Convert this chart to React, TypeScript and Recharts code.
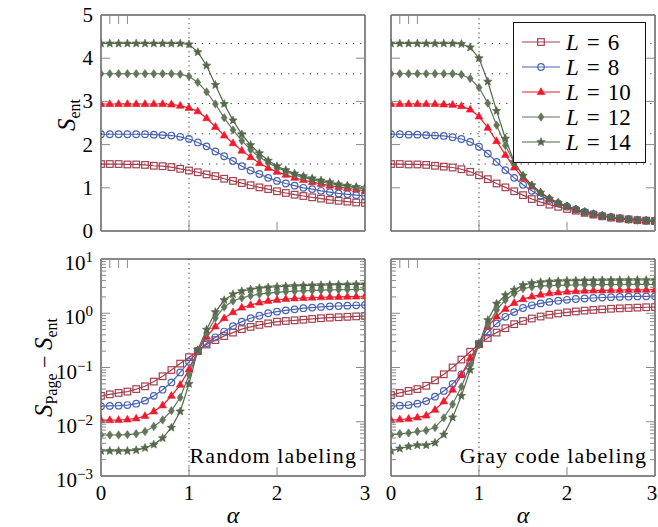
import React from 'react';
import { LineChart, Line, XAxis, YAxis, ReferenceLine, Legend, Label } from 'recharts';

// ---------- data ----------
const alpha = [0, 0.1, 0.2, 0.3, 0.4, 0.5, 0.6, 0.7, 0.8, 0.9, 1.0, 1.1, 1.2, 1.3, 1.4, 1.5, 1.6, 1.7, 1.8, 1.9, 2.0, 2.1, 2.2, 2.3, 2.4, 2.5, 2.6, 2.7, 2.8, 2.9, 3.0];

const randEnt6 = [1.55, 1.55, 1.55, 1.54, 1.54, 1.53, 1.51, 1.50, 1.48, 1.44, 1.40, 1.36, 1.31, 1.27, 1.21, 1.16, 1.11, 1.06, 1.01, 0.97, 0.92, 0.88, 0.84, 0.81, 0.78, 0.75, 0.72, 0.70, 0.68, 0.66, 0.65];
const randEnt8 = [2.24, 2.24, 2.24, 2.24, 2.24, 2.24, 2.23, 2.22, 2.21, 2.18, 2.13, 2.05, 1.96, 1.84, 1.73, 1.62, 1.50, 1.40, 1.32, 1.23, 1.16, 1.10, 1.05, 1.00, 0.97, 0.93, 0.90, 0.87, 0.85, 0.83, 0.81];
const randEnt10 = [2.94, 2.94, 2.94, 2.94, 2.94, 2.94, 2.94, 2.94, 2.93, 2.90, 2.85, 2.77, 2.61, 2.41, 2.21, 2.03, 1.86, 1.71, 1.57, 1.46, 1.37, 1.30, 1.23, 1.18, 1.13, 1.09, 1.05, 1.02, 0.99, 0.96, 0.93];
const randEnt12 = [3.64, 3.64, 3.64, 3.64, 3.64, 3.64, 3.64, 3.64, 3.64, 3.63, 3.58, 3.44, 3.22, 2.94, 2.62, 2.34, 2.09, 1.88, 1.71, 1.58, 1.47, 1.38, 1.30, 1.24, 1.19, 1.14, 1.10, 1.06, 1.03, 1.00, 0.97];
const randEnt14 = [4.34, 4.34, 4.34, 4.34, 4.34, 4.34, 4.34, 4.34, 4.34, 4.34, 4.32, 4.14, 3.83, 3.38, 2.94, 2.56, 2.24, 1.99, 1.80, 1.63, 1.50, 1.41, 1.33, 1.27, 1.22, 1.17, 1.13, 1.08, 1.05, 1.02, 1.00];

const grayEnt6 = [1.55, 1.55, 1.54, 1.54, 1.53, 1.51, 1.49, 1.47, 1.43, 1.37, 1.29, 1.20, 1.10, 1.01, 0.92, 0.83, 0.74, 0.67, 0.61, 0.56, 0.51, 0.47, 0.42, 0.38, 0.34, 0.31, 0.29, 0.27, 0.25, 0.24, 0.23];
const grayEnt8 = [2.24, 2.24, 2.23, 2.23, 2.22, 2.21, 2.20, 2.17, 2.13, 2.06, 1.95, 1.79, 1.60, 1.41, 1.23, 1.07, 0.93, 0.81, 0.72, 0.64, 0.57, 0.50, 0.44, 0.39, 0.35, 0.32, 0.29, 0.27, 0.25, 0.24, 0.23];
const grayEnt10 = [2.94, 2.94, 2.94, 2.94, 2.94, 2.94, 2.93, 2.92, 2.89, 2.81, 2.65, 2.39, 2.08, 1.76, 1.47, 1.22, 1.03, 0.88, 0.75, 0.65, 0.57, 0.50, 0.44, 0.39, 0.35, 0.32, 0.29, 0.27, 0.25, 0.24, 0.23];
const grayEnt12 = [3.64, 3.64, 3.64, 3.64, 3.64, 3.64, 3.64, 3.64, 3.62, 3.53, 3.32, 2.96, 2.45, 1.98, 1.58, 1.28, 1.06, 0.89, 0.75, 0.65, 0.57, 0.50, 0.44, 0.39, 0.35, 0.32, 0.29, 0.27, 0.25, 0.24, 0.23];
const grayEnt14 = [4.34, 4.34, 4.34, 4.34, 4.34, 4.34, 4.34, 4.34, 4.33, 4.25, 4.00, 3.46, 2.78, 2.14, 1.60, 1.28, 1.06, 0.89, 0.75, 0.65, 0.57, 0.50, 0.44, 0.39, 0.35, 0.32, 0.29, 0.27, 0.25, 0.24, 0.23];

const randDiff6 = [0.030, 0.032, 0.034, 0.036, 0.040, 0.045, 0.055, 0.069, 0.090, 0.118, 0.155, 0.20, 0.265, 0.32, 0.38, 0.44, 0.51, 0.56, 0.61, 0.65, 0.70, 0.72, 0.74, 0.76, 0.785, 0.81, 0.83, 0.845, 0.86, 0.875, 0.89];
const randDiff8 = [0.0194, 0.0196, 0.0198, 0.0203, 0.0215, 0.0245, 0.030, 0.039, 0.053, 0.081, 0.127, 0.20, 0.28, 0.36, 0.46, 0.58, 0.70, 0.81, 0.90, 1.0, 1.07, 1.13, 1.18, 1.24, 1.27, 1.31, 1.34, 1.36, 1.38, 1.40, 1.42];
const randDiff10 = [0.0107, 0.0107, 0.0108, 0.0110, 0.0115, 0.0128, 0.0155, 0.020, 0.030, 0.048, 0.092, 0.20, 0.37, 0.57, 0.81, 1.04, 1.27, 1.42, 1.57, 1.69, 1.76, 1.83, 1.88, 1.91, 1.94, 1.97, 1.99, 2.0, 2.02, 2.03, 2.05];
const randDiff12 = [0.0057, 0.0057, 0.0057, 0.0058, 0.0060, 0.0066, 0.0082, 0.0108, 0.016, 0.028, 0.073, 0.20, 0.42, 0.82, 1.3, 1.68, 1.92, 2.1, 2.25, 2.35, 2.43, 2.5, 2.55, 2.59, 2.63, 2.66, 2.69, 2.71, 2.73, 2.75, 2.77];
const randDiff14 = [0.0029, 0.0029, 0.0029, 0.0029, 0.0030, 0.0033, 0.0038, 0.0050, 0.0078, 0.0155, 0.05, 0.21, 0.5, 1.05, 1.75, 2.24, 2.55, 2.75, 2.9, 3.0, 3.08, 3.14, 3.19, 3.23, 3.27, 3.3, 3.33, 3.36, 3.38, 3.40, 3.42];

const grayDiff6 = [0.031, 0.034, 0.037, 0.040, 0.046, 0.058, 0.075, 0.10, 0.14, 0.195, 0.27, 0.35, 0.44, 0.53, 0.63, 0.72, 0.80, 0.87, 0.94, 0.99, 1.04, 1.08, 1.12, 1.15, 1.18, 1.21, 1.23, 1.25, 1.27, 1.29, 1.30];
const grayDiff8 = [0.0196, 0.0198, 0.0203, 0.0215, 0.024, 0.029, 0.037, 0.05, 0.075, 0.125, 0.27, 0.44, 0.65, 0.86, 1.05, 1.25, 1.4, 1.52, 1.62, 1.7, 1.77, 1.83, 1.87, 1.91, 1.95, 1.98, 2.0, 2.02, 2.04, 2.05, 2.06];
const grayDiff10 = [0.0107, 0.011, 0.0113, 0.012, 0.013, 0.0166, 0.0236, 0.039, 0.073, 0.15, 0.27, 0.57, 0.87, 1.2, 1.55, 1.82, 2.03, 2.2, 2.33, 2.42, 2.5, 2.55, 2.59, 2.62, 2.64, 2.66, 2.68, 2.69, 2.70, 2.71, 2.72];
const grayDiff12 = [0.0057, 0.006, 0.0062, 0.0066, 0.0069, 0.0078, 0.0118, 0.021, 0.044, 0.11, 0.27, 0.6, 1.15, 1.75, 2.3, 2.85, 3.05, 3.15, 3.22, 3.27, 3.3, 3.32, 3.34, 3.36, 3.37, 3.38, 3.39, 3.40, 3.41, 3.42, 3.42];
const grayDiff14 = [0.0029, 0.0032, 0.0035, 0.0037, 0.0037, 0.0041, 0.0058, 0.012, 0.03, 0.09, 0.27, 0.75, 1.5, 2.15, 2.7, 3.3, 3.6, 3.75, 3.85, 3.92, 3.97, 4.0, 4.03, 4.05, 4.06, 4.07, 4.08, 4.09, 4.1, 4.1, 4.1];

const pageValues = [1.55, 2.25, 2.95, 3.64, 4.34];
const xTicks = [0, 1, 2, 3];
const yTicksLin = [0, 1, 2, 3, 4, 5];
const yTicksLog = [0.001, 0.01, 0.1, 1, 10];
const yMinorLog = [0.002, 0.003, 0.004, 0.005, 0.006, 0.007, 0.008, 0.009,
  0.02, 0.03, 0.04, 0.05, 0.06, 0.07, 0.08, 0.09,
  0.2, 0.3, 0.4, 0.5, 0.6, 0.7, 0.8, 0.9,
  2, 3, 4, 5, 6, 7, 8, 9];
const yTicksLogAll = [...yTicksLog, ...yMinorLog];
const sizes = ['6', '8', '10', '12', '14'];

const buildRows = (s6: number[], s8: number[], s10: number[], s12: number[], s14: number[]) =>
  alpha.map((a, i) => ({ a, L6: s6[i], L8: s8[i], L10: s10[i], L12: s12[i], L14: s14[i] }));

const randEntRows = buildRows(randEnt6, randEnt8, randEnt10, randEnt12, randEnt14);
const grayEntRows = buildRows(grayEnt6, grayEnt8, grayEnt10, grayEnt12, grayEnt14);
const randDiffRows = buildRows(randDiff6, randDiff8, randDiff10, randDiff12, randDiff14);
const grayDiffRows = buildRows(grayDiff6, grayDiff8, grayDiff10, grayDiff12, grayDiff14);

// ---------- styles ----------
const FONT = '"Liberation Serif", "Times New Roman", serif';
type Marker = 'square' | 'circle' | 'triangle' | 'diamond' | 'star';
const seriesCfg: { key: string; size: string; color: string; marker: Marker }[] = [
  { key: 'L6', size: sizes[0], color: '#a4414f', marker: 'square' },
  { key: 'L8', size: sizes[1], color: '#4a63b0', marker: 'circle' },
  { key: 'L10', size: sizes[2], color: '#ee1b2d', marker: 'triangle' },
  { key: 'L12', size: sizes[3], color: '#62765a', marker: 'diamond' },
  { key: 'L14', size: sizes[4], color: '#55684b', marker: 'star' },
];

const MAJ = 9;
const MIN = 5;
const FRAME = { stroke: '#111', strokeWidth: 1 };
const TICK_STROKE = '#8a8a8a';

function starPath(cx: number, cy: number, ro: number, ri: number) {
  let d = '';
  for (let k = 0; k < 10; k++) {
    const r = k % 2 === 0 ? ro : ri;
    const ang = -Math.PI / 2 + (k * Math.PI) / 5;
    d += (k === 0 ? 'M' : 'L') + (cx + r * Math.cos(ang)).toFixed(2) + ',' + (cy + r * Math.sin(ang)).toFixed(2);
  }
  return d + 'Z';
}

function markerShape(marker: Marker, cx: number, cy: number, color: string, key: string) {
  if (cx == null || cy == null || isNaN(cx) || isNaN(cy)) return <g key={key} />;
  switch (marker) {
    case 'square':
      return <rect key={key} x={cx - 3.3} y={cy - 3.3} width={6.6} height={6.6} fill="none" stroke={color} strokeWidth={1.2} />;
    case 'circle':
      return <circle key={key} cx={cx} cy={cy} r={3.3} fill="none" stroke={color} strokeWidth={1.2} />;
    case 'triangle':
      return <path key={key} d={`M${cx},${cy - 4.3}L${cx + 3.9},${cy + 2.5}L${cx - 3.9},${cy + 2.5}Z`} fill={color} stroke={color} strokeWidth={0.6} />;
    case 'diamond':
      return <path key={key} d={`M${cx},${cy - 4.2}L${cx + 3},${cy}L${cx},${cy + 4.2}L${cx - 3},${cy}Z`} fill={color} stroke={color} strokeWidth={0.6} />;
    default:
      return <path key={key} d={starPath(cx, cy, 4.4, 2.0)} fill={color} stroke={color} strokeWidth={0.6} />;
  }
}

// Tick renderer: x / y arrive at the plot edge (tickSize 0, tickMargin 0)
type Side = 'left' | 'right' | 'bottom' | 'top';
const makeTick = (side: Side, mode: 'lin' | 'log' | 'x', showLabel: boolean, maxX = 100000) => (props: any) => {
  const { x, y, payload } = props;
  const v = payload.value;
  const major = mode !== 'log' || yTicksLog.indexOf(v) >= 0;
  const len = major ? MAJ : MIN;
  let x2 = x, y2 = y;
  if (side === 'left') x2 = x + len;
  if (side === 'right') x2 = x - len;
  if (side === 'bottom') y2 = y - len;
  if (side === 'top') y2 = y + len;
  let label: any = null;
  if (showLabel && major) {
    if (mode === 'x') {
      const tx = Math.min(x, maxX - 6);
      label = <text x={tx} y={y + 24} textAnchor="middle" fontFamily={FONT} fontSize={21} fill="#000">{v}</text>;
    } else if (mode === 'lin') {
      label = <text x={x - 8} y={y + 7} textAnchor="end" fontFamily={FONT} fontSize={21} fill="#000">{v}</text>;
    } else {
      const e = Math.round(Math.log10(v));
      const es = e < 0 ? `\u2212${-e}` : `${e}`;
      label = (
        <text x={x - 8} y={y} textAnchor="end" fontFamily={FONT} fontSize={21} fill="#000">
          <tspan dy={11}>10</tspan>
          <tspan dy={-8} fontSize={15}>{es}</tspan>
        </text>
      );
    }
  }
  return (
    <g>
      <line x1={x} y1={y} x2={x2} y2={y2} stroke={TICK_STROKE} strokeWidth={1} />
      {label}
    </g>
  );
};

const alphaLabel = (props: any) => {
  const vb = props.viewBox || {};
  return (
    <text x={vb.x + vb.width / 2} y={vb.y + 47} textAnchor="middle" fontFamily={FONT} fontSize={24} fontStyle="italic" fill="#000">α</text>
  );
};

const noteLabel = (note: string) => (props: any) => {
  const vb = props.viewBox || {};
  return (
    <text x={vb.x + vb.width - 8} y={vb.y - 13} textAnchor="end" fontFamily={FONT} fontSize={22} letterSpacing={1.1} fill="#000">{note}</text>
  );
};

const entLabel = (props: any) => {
  const vb = props.viewBox || {};
  const cx = vb.x - 25;
  const cy = vb.y + vb.height / 2 - 8;
  return (
    <text x={cx} y={cy} transform={`rotate(-90, ${cx}, ${cy})`} textAnchor="middle" fontFamily={FONT} fill="#000">
      <tspan fontSize={25} fontStyle="italic">S</tspan>
      <tspan fontSize={16} dy={5}>ent</tspan>
    </text>
  );
};

const diffLabel = (props: any) => {
  const vb = props.viewBox || {};
  const cx = vb.x - 48;
  const cy = vb.y + vb.height / 2;
  return (
    <text x={cx} y={cy} transform={`rotate(-90, ${cx}, ${cy})`} textAnchor="middle" fontFamily={FONT} fill="#000">
      <tspan fontSize={25} fontStyle="italic">S</tspan>
      <tspan fontSize={16} dy={5}>Page</tspan>
      <tspan fontSize={22} dy={-5}>{' \u2212 '}</tspan>
      <tspan fontSize={25} fontStyle="italic">S</tspan>
      <tspan fontSize={16} dy={5}>ent</tspan>
    </text>
  );
};

const LegendBox = (props: any) => {
  const keys = new Set((props.payload || []).map((p: any) => p.dataKey));
  const items = seriesCfg.filter((s) => keys.has(s.key));
  return (
    <div style={{ width: 133, height: 141, border: '1px solid #111', background: '#fff', boxSizing: 'border-box' }}>
      <svg width={131} height={139} style={{ display: 'block' }}>
        {items.map((s, i) => {
          const y = 19 + 25 * i;
          return (
            <g key={s.key}>
              <line x1={8} x2={46} y1={y} y2={y} stroke={s.color} strokeWidth={1.2} />
              {markerShape(s.marker, 27, y, s.color, 'm' + s.key)}
              <text x={52} y={y + 8} fontFamily={FONT} fontSize={23} fill="#000">
                <tspan fontStyle="italic">L</tspan>
                <tspan dx={8}>=</tspan>
                <tspan dx={8}>{s.size}</tspan>
              </text>
            </g>
          );
        })}
      </svg>
    </div>
  );
};

type PanelProps = {
  rows: any[];
  left: number;
  top: number;
  w: number;
  h: number;
  margin: { top: number; right: number; bottom: number; left: number };
  log: boolean;
  yLabels: boolean;
  xLabels: boolean;
  legend?: boolean;
  note?: string;
  yTitle?: 'ent' | 'diff';
};

const Panel = (p: PanelProps) => {
  const yDomain: [number, number] = p.log ? [0.001, 10] : [0, 5];
  const yScale: any = p.log ? 'log' : 'linear';
  const yTicks = p.log ? yTicksLogAll : yTicksLin;
  const mode = p.log ? 'log' : 'lin';
  return (
    <div style={{ position: 'absolute', left: p.left, top: p.top, width: p.w, height: p.h }}>
      <LineChart width={p.w} height={p.h} data={p.rows} margin={p.margin}>
        <XAxis xAxisId="b" dataKey="a" type="number" domain={[0, 3]} ticks={xTicks} allowDataOverflow interval={0}
          height={1} tickSize={0} tickMargin={0} tick={makeTick('bottom', 'x', p.xLabels, p.w)}
          axisLine={FRAME} tickLine={false}>
          {p.xLabels && <Label content={alphaLabel} />}
          {p.note && <Label content={noteLabel(p.note)} />}
        </XAxis>
        <XAxis xAxisId="t" orientation="top" type="number" domain={[0, 3]} ticks={xTicks} allowDataOverflow interval={0}
          height={1} tickSize={0} tickMargin={0} tick={makeTick('top', 'x', false)} axisLine={FRAME} tickLine={false} />
        <YAxis yAxisId="l" type="number" scale={yScale} domain={yDomain} ticks={yTicks} allowDataOverflow interval={0}
          width={1} tickSize={0} tickMargin={0} tick={makeTick('left', mode, p.yLabels)} axisLine={FRAME} tickLine={false}>
          {p.yTitle === 'ent' && <Label content={entLabel} />}
          {p.yTitle === 'diff' && <Label content={diffLabel} />}
        </YAxis>
        <YAxis yAxisId="r" orientation="right" type="number" scale={yScale} domain={yDomain} ticks={yTicks} allowDataOverflow interval={0}
          width={1} tickSize={0} tickMargin={0} tick={makeTick('right', mode, false)} axisLine={FRAME} tickLine={false} />
        {!p.log && pageValues.map((v) => (
          <ReferenceLine key={'h' + v} xAxisId="b" yAxisId="l" y={v} stroke="#333" strokeWidth={1} strokeDasharray="1.2 6" />
        ))}
        <ReferenceLine xAxisId="b" yAxisId="l" x={1} stroke="#333" strokeWidth={1} strokeDasharray="1.2 3.5" />
        {seriesCfg.map((s) => (
          <Line key={s.key} xAxisId="b" yAxisId="l" type="linear" dataKey={s.key} name={`L = ${s.size}`}
            stroke={s.color} strokeWidth={1.2} isAnimationActive={false} activeDot={false}
            dot={(d: any) => markerShape(s.marker, d.cx, d.cy, s.color, `${s.key}-${d.index}`)} />
        ))}
        {p.legend && (
          <Legend layout="horizontal" verticalAlign="middle" align="center" content={LegendBox}
            wrapperStyle={{ position: 'absolute', left: 133, top: 22, width: 133, height: 141, margin: 0, padding: 0 }} />
        )}
      </LineChart>
    </div>
  );
};

export default function App() {
  return (
    <div style={{ position: 'absolute', left: 0, top: 0, width: 658, height: 527, background: '#fff' }}>
      <Panel rows={randEntRows} left={0} top={0} w={380} h={250}
        margin={{ top: 14, right: 14, bottom: 18, left: 100 }} log={false} yLabels xLabels={false} yTitle="ent" />
      <Panel rows={grayEntRows} left={380} top={0} w={278} h={250}
        margin={{ top: 14, right: 2, bottom: 18, left: 10 }} log={false} yLabels={false} xLabels={false} legend />
      <Panel rows={randDiffRows} left={0} top={240} w={380} h={287}
        margin={{ top: 18, right: 14, bottom: 50, left: 100 }} log yLabels xLabels note="Random labeling" yTitle="diff" />
      <Panel rows={grayDiffRows} left={380} top={240} w={278} h={287}
        margin={{ top: 18, right: 2, bottom: 50, left: 10 }} log yLabels={false} xLabels note="Gray code labeling" />
    </div>
  );
}
